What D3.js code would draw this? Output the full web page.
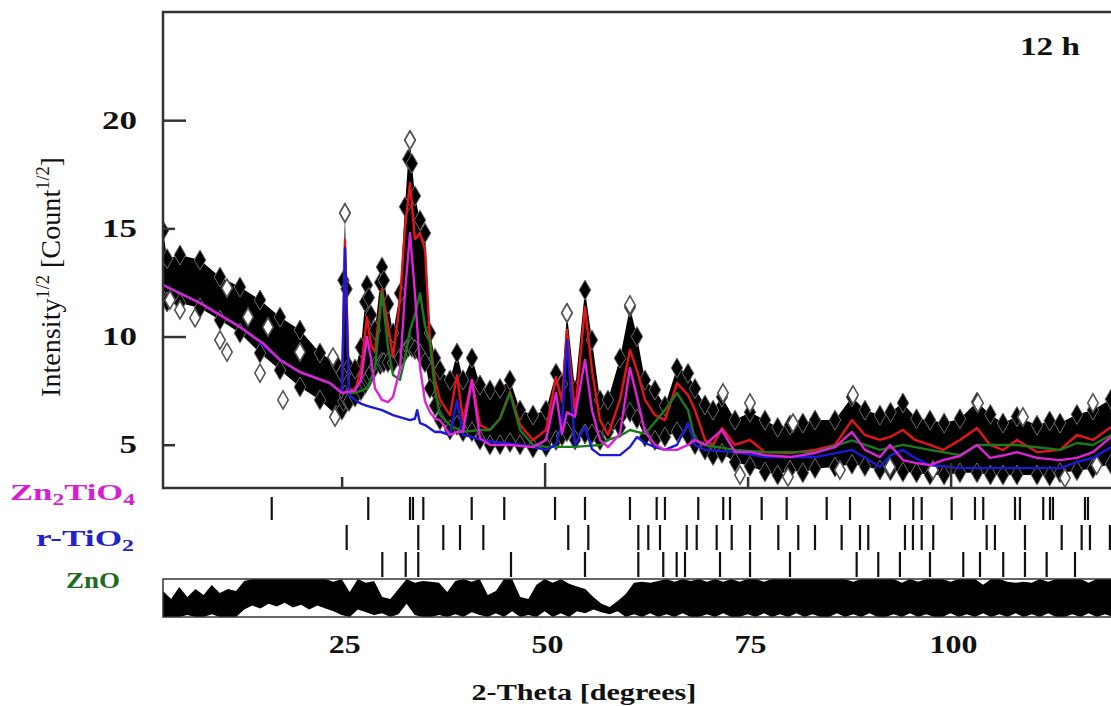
<!DOCTYPE html>
<html>
<head>
<meta charset="utf-8">
<script src="https://cdn.jsdelivr.net/npm/d3@7"></script>
<style>
  body { margin: 0; background: #fff; }
</style>
</head>
<body>
<svg id="chart" width="1111" height="706"></svg>
<script>
// ---- observed profile (envelope of the dense diamond cloud), 2-theta in degrees, sqrt(I)
var obsTheta = [3.0, 3.5, 5.09, 7.56, 10.02, 12.48, 14.95, 17.41, 19.87, 22.33, 24.31, 25.04, 25.22, 25.41, 25.6, 25.91, 26.65, 27.38, 27.9, 28.12, 28.35, 28.61, 29.11, 29.75, 29.97, 30.2, 30.71, 31.33, 32.19, 32.80, 33.2, 33.42, 33.65, 34.03, 34.65, 35.27, 35.88, 36.50, 37.11, 38.35, 39.21, 39.95, 41.05, 42.04, 43.27, 44.50, 45.73, 46.97, 48.57, 50.17, 51.40, 52.14, 52.75, 53.74, 54.97, 55.83, 56.82, 57.80, 59.28, 60.51, 61.37, 62.36, 63.59, 64.82, 66.30, 67.66, 68.52, 69.75, 70.74, 71.84, 73.45, 75.29, 77.14, 78.7, 80.22, 81.8, 83.30, 85.76, 87.85, 89.45, 91.30, 92.6, 94.13, 95.8, 97.46, 99.2, 101.15, 103.25, 104.9, 106.45, 108.17, 110.64, 112.2, 113.47, 115.56, 117.53, 119.75];
var obsHi = [14.9, 13.6, 13.77, 13.54, 12.75, 12.29, 11.69, 10.90, 10.30, 9.24, 8.78, 8.3, 12.6, 15.71, 12.2, 8.6, 8.5, 9.5, 11.6, 12.38, 11.8, 11.0, 10.3, 12.5, 13.21, 12.6, 11.5, 10.16, 12.0, 16.0, 18.2, 19.08, 18.0, 16.5, 15.38, 14.78, 10.16, 9.0, 8.45, 7.99, 9.24, 8.0, 9.01, 7.76, 7.53, 7.6, 7.99, 6.60, 6.37, 6.60, 8.3, 7.8, 11.09, 7.53, 12.15, 9.84, 7.07, 7.07, 9.0, 11.36, 10.0, 7.99, 7.53, 6.8, 8.55, 8.3, 7.6, 6.84, 6.6, 7.21, 6.14, 6.5, 6.14, 5.8, 5.91, 6.0, 6.14, 6.14, 7.21, 6.6, 6.37, 6.5, 6.93, 6.2, 6.14, 6.0, 6.2, 6.97, 6.4, 6.0, 6.3, 5.9, 6.1, 6.0, 6.4, 6.6, 7.1];
var obsLo = [11.7, 11.6, 11.55, 11.32, 10.76, 10.16, 9.24, 8.45, 7.67, 7.07, 6.37, 6.6, 7.0, 7.3, 7.1, 7.0, 7.2, 7.5, 7.8, 8.0, 8.1, 8.3, 8.6, 8.7, 8.8, 8.8, 8.8, 8.78, 9.0, 9.3, 9.5, 9.6, 9.5, 9.4, 9.2, 8.8, 7.6, 6.8, 6.14, 5.68, 5.9, 5.6, 5.6, 5.22, 4.99, 5.0, 5.1, 4.99, 4.85, 4.9, 5.2, 5.4, 5.6, 5.22, 5.5, 5.5, 5.2, 5.6, 5.8, 6.5, 6.2, 5.36, 5.2, 5.36, 5.6, 5.4, 5.0, 4.76, 4.5, 4.6, 4.2, 4.0, 3.74, 3.6, 3.83, 3.7, 3.9, 3.97, 4.1, 4.0, 3.83, 3.8, 3.74, 3.7, 3.6, 3.6, 3.7, 3.7, 3.6, 3.6, 3.6, 3.6, 3.55, 3.7, 3.8, 3.9, 4.1];

// scattered open diamonds outside the dense band
var outTheta = [3.86, 5.09, 6.94, 10.88, 13.47, 15.93, 19.87, 23.94, 10.02, 10.88, 14.95, 17.78, 24.18, 25.41, 33.42, 60.51, 52.75, 75.29, 87.98, 74.06, 79.97, 86.37, 92.53, 97.83, 114.08, 118.0, 71.97, 80.59, 103.37, 108.91, 117.53];
var outVal = [11.69, 11.23, 10.86, 12.24, 10.90, 10.44, 9.28, 9.05, 9.84, 9.28, 8.31, 7.07, 6.28, 15.71, 19.08, 11.46, 11.09, 6.93, 7.30, 3.60, 3.51, 3.83, 3.97, 3.83, 3.46, 4.06, 7.39, 6.00, 6.93, 6.28, 6.93];

// ---- calculated profile (red)
var calcTheta = [3.0, 7.56, 12.48, 14.7, 17.41, 19.87, 23.57, 25.04, 25.41, 25.91, 26.65, 27.38, 28.12, 28.61, 29.11, 29.97, 30.71, 31.33, 32.19, 32.80, 33.42, 34.03, 34.65, 35.27, 35.88, 36.50, 37.11, 38.35, 39.21, 39.95, 41.05, 42.04, 43.27, 44.50, 45.73, 46.97, 48.57, 50.17, 51.40, 52.14, 52.75, 53.74, 54.97, 55.83, 56.82, 57.80, 59.28, 60.51, 61.37, 62.36, 63.59, 64.82, 66.30, 67.66, 68.52, 69.75, 70.74, 71.84, 73.45, 75.29, 77.14, 80.22, 83.30, 85.76, 87.85, 89.45, 91.30, 92.53, 94.13, 95.61, 97.46, 99.06, 101.15, 103.25, 104.85, 106.45, 108.17, 110.64, 113.47, 115.56, 117.53, 119.75];
var calcVal = [12.38, 11.55, 10.44, 9.84, 8.92, 8.36, 7.85, 7.39, 14.46, 7.6, 7.5, 8.5, 10.9, 9.6, 9.3, 12.2, 10.5, 9.05, 11.69, 15.0, 17.09, 14.5, 14.78, 14.0, 9.84, 8.0, 7.07, 6.37, 8.22, 6.14, 7.99, 5.91, 5.68, 6.2, 7.44, 5.91, 5.22, 5.68, 8.13, 7.0, 10.3, 6.37, 11.36, 8.45, 6.14, 5.45, 7.07, 9.38, 8.45, 7.07, 6.37, 6.14, 7.85, 7.30, 6.60, 5.22, 4.99, 5.77, 4.99, 5.22, 4.66, 4.62, 4.76, 4.99, 6.14, 5.45, 5.22, 5.36, 5.68, 5.22, 4.99, 4.76, 5.22, 5.77, 4.99, 4.76, 5.22, 4.66, 4.76, 5.45, 5.22, 5.82];

// ---- Zn2TiO4 phase (magenta)
var znTiTheta = [3.0, 7.56, 12.48, 14.7, 15.3, 17.41, 19.87, 23.57, 25.04, 26.65, 27.38, 28.12, 28.61, 29.11, 29.97, 30.71, 31.33, 32.19, 32.80, 33.42, 34.03, 34.65, 35.27, 35.88, 36.50, 37.11, 38.35, 39.21, 39.95, 41.05, 42.04, 43.27, 45.73, 48.57, 50.17, 51.40, 52.14, 52.75, 53.74, 54.97, 55.83, 56.82, 57.80, 59.28, 60.51, 61.37, 62.36, 63.59, 64.82, 66.30, 67.66, 68.52, 69.75, 71.84, 73.45, 75.29, 77.14, 80.22, 83.30, 85.76, 87.85, 89.45, 91.30, 92.53, 94.13, 95.61, 97.46, 99.06, 101.15, 103.25, 104.85, 106.45, 108.17, 110.64, 113.47, 115.56, 117.53, 119.75];
var znTiVal = [12.38, 11.55, 10.44, 9.84, 9.70, 8.92, 8.36, 7.85, 7.39, 7.5, 8.0, 9.98, 9.0, 7.6, 7.07, 6.97, 7.21, 8.5, 12.0, 14.78, 12.0, 8.59, 7.0, 6.5, 6.2, 6.14, 5.45, 5.6, 5.6, 7.99, 5.3, 5.0, 4.99, 4.89, 5.22, 7.39, 5.5, 6.5, 6.3, 8.92, 6.6, 5.22, 4.89, 5.5, 8.55, 7.2, 5.6, 5.0, 4.76, 4.76, 4.99, 5.22, 4.99, 5.68, 4.66, 4.66, 4.52, 4.43, 4.62, 4.89, 5.59, 4.76, 4.43, 4.99, 4.29, 4.16, 4.06, 4.29, 4.48, 4.99, 4.39, 4.5, 4.66, 4.39, 4.29, 4.39, 4.66, 5.36];

// ---- r-TiO2 phase (blue)
var tio2Theta = [3.0, 7.56, 12.48, 14.7, 15.3, 17.41, 19.87, 23.57, 25.04, 25.41, 25.91, 26.65, 27.38, 28.12, 29.97, 31.33, 33.42, 34.03, 34.3, 34.65, 35.27, 36.50, 37.11, 38.35, 39.21, 39.95, 41.05, 42.04, 44.50, 46.97, 48.57, 50.17, 51.40, 52.14, 52.75, 53.74, 54.97, 55.83, 56.82, 59.28, 60.51, 61.37, 62.36, 63.59, 64.82, 66.30, 67.66, 68.52, 69.75, 73.45, 77.14, 83.30, 87.85, 89.45, 91.30, 92.53, 94.13, 95.61, 97.46, 101.15, 106.45, 110.64, 113.47, 115.56, 117.53, 119.75];
var tio2Val = [12.38, 11.55, 10.44, 9.84, 9.6, 8.92, 8.36, 7.85, 7.39, 14.09, 7.3, 7.07, 6.9, 6.8, 6.6, 6.37, 6.14, 6.2, 6.6, 6.0, 5.91, 5.59, 5.6, 5.45, 7.07, 5.45, 5.36, 5.22, 5.1, 5.0, 4.89, 4.76, 5.0, 6.0, 9.84, 4.99, 5.82, 4.8, 4.52, 4.52, 4.9, 5.36, 5.08, 4.89, 4.76, 4.99, 6.00, 4.99, 4.76, 4.66, 4.43, 4.43, 4.76, 4.4, 3.97, 4.5, 4.76, 4.39, 4.06, 3.92, 3.92, 3.92, 3.92, 4.20, 4.39, 4.89];

// ---- ZnO phase (green)
var znoTheta = [3.0, 7.56, 12.48, 14.7, 17.41, 19.87, 23.57, 25.04, 26.65, 28.12, 29.11, 29.97, 30.71, 31.33, 32.19, 32.80, 33.42, 34.03, 34.65, 35.27, 35.88, 36.50, 37.11, 38.35, 39.95, 42.04, 43.27, 44.50, 45.73, 46.97, 48.57, 50.17, 53.74, 56.82, 57.80, 59.28, 60.51, 62.36, 63.59, 64.82, 66.30, 67.66, 68.52, 69.75, 73.45, 77.14, 83.30, 87.85, 91.30, 94.13, 97.46, 101.15, 103.25, 108.17, 113.47, 115.56, 117.53, 119.75];
var znoVal = [12.38, 11.55, 10.44, 9.84, 8.92, 8.36, 7.85, 7.39, 7.4, 7.6, 8.5, 12.06, 9.5, 8.22, 8.0, 9.0, 10.3, 11.0, 12.0, 10.5, 9.7, 7.5, 6.37, 5.9, 5.6, 5.68, 5.68, 6.2, 7.39, 5.68, 4.99, 4.9, 4.9, 4.99, 5.22, 5.4, 5.68, 5.5, 6.05, 6.6, 7.39, 6.60, 5.22, 4.99, 4.76, 4.66, 4.66, 5.2, 4.76, 4.99, 4.76, 4.52, 4.99, 4.99, 4.76, 5.08, 4.99, 5.45];

// ---- Bragg reflection positions (2-theta)
var znTiTicks = [16.39, 28.28, 33.42, 33.79, 35.06, 41.02, 45.03, 51.28, 54.97, 60.51, 63.80, 64.82, 68.92, 72.00, 72.83, 76.73, 79.81, 84.74, 87.61, 92.53, 95.40, 96.44, 100.13, 103.00, 104.02, 107.93, 108.54, 111.41, 112.24, 112.61, 116.55, 116.92];
var tio2Ticks = [25.62, 34.44, 37.52, 39.58, 42.45, 52.91, 55.38, 61.54, 62.77, 64.21, 67.50, 68.73, 71.19, 73.04, 75.30, 78.78, 81.24, 83.30, 86.58, 88.84, 89.86, 94.38, 95.36, 96.44, 97.86, 104.44, 105.46, 109.16, 113.68, 116.14, 117.16, 119.62];
var znoTicks = [30.01, 32.89, 34.44, 45.86, 54.97, 61.54, 64.61, 66.26, 67.29, 71.60, 75.30, 80.22, 88.43, 91.09, 93.76, 97.46, 101.56, 103.62, 106.48, 109.16, 111.83, 115.32];

// ---- difference curve band (1 degree steps from 3), top and bottom edges
var diffStart = 3;
var diffHi = [0.37, -0.05, 0.58, 0.05, 0.47, 0.16, 0.68, 0.26, 0.47, 0.37, 0.9, 1, 1, 1, 1, 1, 1, 1, 1, 1, 1, 0.85, 1, 0.32, 1, 0.8, 0.9, 0.05, -0.05, 0.47, 1, 0.8, 0.9, 0.85, 0.8, 0.32, 0.9, 1, 0.85, 1, 0.16, 0.37, 1, 1, 0.05, -0.05, 0.7, 1, 0.8, 1, 0.75, 0.6, 0.47, 0.05, -0.3, -0.47, -0.16, 0.21, 0.8, 0.85, 0.8, 0.9, 1, 0.85, 1, 0.9, 1, 0.85, 1, 0.85, 1, 0.85, 1, 1, 0.85, 1, 1, 1, 1, 1, 1, 1, 1, 1, 1, 0.85, 1, 1, 1, 1, 1, 0.8, 1, 0.85, 1, 1, 1, 0.85, 1, 1, 1, 0.7, 1, 1, 0.85, 0.8, 0.85, 0.8, 1, 0.85, 1, 1, 1, 1, 0.8, 1, 1, 1];
var diffLo = [-1, -1, -1, -0.9, -1, -1, -0.85, -1, -1, -1, -0.6, -0.4, -0.55, -0.3, -0.45, -0.25, -0.5, -0.35, -0.6, -0.4, -0.55, -0.7, -0.9, -1, -0.6, -0.75, -0.9, -0.8, -1, -0.85, -0.3, -0.9, -1, -1, -0.9, -1, -0.85, -1, -0.75, -0.9, -1, -0.8, -1, -0.7, -1, -0.9, -1, -0.7, -1, -0.8, -1, -0.7, -0.8, -0.6, -0.75, -0.85, -0.7, -1, -0.85, -1, -0.8, -1, -0.85, -1, -0.8, -1, -1, -0.85, -1, -0.8, -1, -1, -0.85, -1, -0.8, -1, -0.85, -1, -0.8, -1, -0.85, -1, -1, -0.8, -1, -0.85, -1, -0.8, -1, -1, -0.85, -1, -0.8, -1, -0.85, -1, -1, -0.8, -1, -0.85, -1, -0.8, -1, -0.85, -1, -0.8, -1, -0.85, -1, -0.8, -1, -1, -0.85, -1, -0.8, -1, -0.85, -1];

var yTicks = [5, 10, 15, 20];
var xTicks = [25, 50, 75, 100];

var svg = d3.select("#chart");
var serif = "Liberation Serif, Times New Roman, DejaVu Serif, serif";

var x = d3.scaleLinear().domain([3, 120]).range([163, 1113]);
var y = d3.scaleLinear().domain([3, 25]).range([488, 12]);
var yDiff = d3.scaleLinear().domain([-1, 1]).range([617, 579]);

var defs = svg.append("defs");
defs.append("clipPath").attr("id", "plotClip")
  .append("rect").attr("x", 164).attr("y", 13).attr("width", 960).attr("height", 474);
defs.append("clipPath").attr("id", "diffClip")
  .append("rect").attr("x", 163).attr("y", 579).attr("width", 960).attr("height", 38);

// text that gets stretched horizontally to the measured width of the original
function addText(parent, parts, px, py, width, anchor, size, weight, fill) {
  var t = parent.append("text")
    .style("font-family", serif)
    .attr("font-size", size)
    .attr("font-weight", weight)
    .attr("fill", fill);
  parts.forEach(function(p) {
    var s = t.append("tspan").text(p.text);
    if (p.sub) s.attr("font-size", size * 0.68).attr("dy", size * 0.22);
    if (p.sup) s.attr("font-size", size * 0.65).attr("dy", -size * 0.4);
    if (p.back) s.attr("dy", p.back);
  });
  var len = t.node().getComputedTextLength();
  var s = width / len;
  var x0 = anchor == "end" ? px - width : anchor == "middle" ? px - width / 2 : px;
  t.attr("transform", "translate(" + x0 + "," + py + ") scale(" + s + ",1)");
  return t;
}

// ---- observed data
var plot = svg.append("g").attr("clip-path", "url(#plotClip)");
var obs = obsTheta.map(function(t, i) { return {t: t, hi: obsHi[i], lo: obsLo[i]}; });

plot.append("path")
  .datum(obs)
  .attr("fill", "#000")
  .attr("d", d3.area().x(d => x(d.t)).y0(d => y(d.lo)).y1(d => y(d.hi)));

var edgePts = [];
obs.forEach(function(d) { edgePts.push([d.t, d.hi]); edgePts.push([d.t, d.lo]); });

plot.append("g").selectAll("path")
  .data(edgePts)
  .enter().append("path")
    .attr("d", d3.symbol().type(d3.symbolDiamond).size(115))
    .attr("transform", d => "translate(" + x(d[0]) + "," + y(d[1]) + ")")
    .attr("fill", "#000")
    .attr("stroke", "#6a6a6a")
    .attr("stroke-width", 1);

plot.append("g").selectAll("path")
  .data(outTheta.map((t, i) => [t, outVal[i]]))
  .enter().append("path")
    .attr("d", d3.symbol().type(d3.symbolDiamond).size(95))
    .attr("transform", d => "translate(" + x(d[0]) + "," + y(d[1]) + ")")
    .attr("fill", "#fff")
    .attr("stroke", "#555")
    .attr("stroke-width", 1.6);

// ---- calculated + phase curves
var line = d3.line().x(d => x(d[0])).y(d => y(d[1]));
var curves = [
  {th: calcTheta, v: calcVal, color: "#e3141b"},
  {th: znoTheta, v: znoVal, color: "#1c7a1c"},
  {th: tio2Theta, v: tio2Val, color: "#1b1bd6"},
  {th: znTiTheta, v: znTiVal, color: "#dd22d8"}
];
curves.forEach(function(c) {
  plot.append("path")
    .datum(c.th.map((t, i) => [t, c.v[i]]))
    .attr("fill", "none")
    .attr("stroke", c.color)
    .attr("stroke-width", 2.4)
    .attr("stroke-linejoin", "round")
    .attr("d", line);
});

// ---- frame and axes
svg.append("rect")
  .attr("x", 163).attr("y", 12).attr("width", 960).attr("height", 476)
  .attr("fill", "none").attr("stroke", "#333").attr("stroke-width", 2.5);

var yAxisLong = d3.axisRight(y).tickValues([10, 20]).tickSize(23).tickFormat("");
var yAxisShort = d3.axisRight(y).tickValues([5, 15]).tickSize(12).tickFormat("");
var xAxisLong = d3.axisTop(x).tickValues([50, 100]).tickSize(25).tickFormat("");
var xAxisShort = d3.axisTop(x).tickValues([25, 75]).tickSize(11).tickFormat("");
[[yAxisLong, "translate(163,0)"], [yAxisShort, "translate(163,0)"],
 [xAxisLong, "translate(0,488)"], [xAxisShort, "translate(0,488)"]].forEach(function(a) {
  var g = svg.append("g").attr("transform", a[1]).call(a[0]);
  g.select(".domain").remove();
  g.selectAll("line").attr("stroke", "#333").attr("stroke-width", 2.5);
});

yTicks.forEach(function(v) {
  addText(svg, [{text: String(v)}], 137, y(v) + 8.5, String(v).length * 17.5, "end", 25, "bold", "#111");
});
xTicks.forEach(function(v) {
  addText(svg, [{text: String(v)}], x(v) + 3, 653, String(v).length * 16, "middle", 25, "bold", "#111");
});

addText(svg, [{text: "2-Theta [degrees]"}], 584, 700, 225, "middle", 23, "bold", "#111");
addText(svg, [{text: "12 h"}], 1020, 55, 60, "start", 26, "bold", "#111");

var yLab = svg.append("g").attr("transform", "translate(60,397) rotate(-90)");
addText(yLab, [{text: "Intensity"}, {text: "1/2", sup: true}, {text: " [Count", back: 11.2},
               {text: "1/2", sup: true}, {text: "]", back: 11.2}], 0, 0, 240, "start", 28, "normal", "#111");

// ---- phase labels and reflection markers
var rows = [
  {parts: [{text: "Zn"}, {text: "2", sub: true}, {text: "TiO", back: -5.3}, {text: "4", sub: true}],
   x0: 10, w: 125, base: 500, color: "#d61fcf", ticks: znTiTicks, y0: 497, y1: 520},
  {parts: [{text: "r-TiO"}, {text: "2", sub: true}],
   x0: 36, w: 98, base: 546, color: "#2222c8", ticks: tio2Ticks, y0: 525, y1: 550},
  {parts: [{text: "ZnO"}],
   x0: 66, w: 54, base: 588, color: "#1d6b1d", ticks: znoTicks, y0: 552, y1: 577}
];
rows.forEach(function(r) {
  addText(svg, r.parts, r.x0, r.base, r.w, "start", 24, "bold", r.color);
  svg.append("g").selectAll("line")
    .data(r.ticks)
    .enter().append("line")
      .attr("x1", d => x(d)).attr("x2", d => x(d))
      .attr("y1", r.y0).attr("y2", r.y1)
      .attr("stroke", "#111").attr("stroke-width", 2.2);
});

// ---- difference band
var diff = diffHi.map((h, i) => ({t: diffStart + i, hi: h, lo: diffLo[i]}));
svg.append("g").attr("clip-path", "url(#diffClip)")
  .append("path")
  .datum(diff)
  .attr("fill", "#000")
  .attr("d", d3.area().x(d => x(d.t)).y0(d => yDiff(d.lo)).y1(d => yDiff(d.hi)));
svg.append("rect")
  .attr("x", 163).attr("y", 579).attr("width", 960).attr("height", 38)
  .attr("fill", "none").attr("stroke", "#333").attr("stroke-width", 1.5);
</script>
</body>
</html>
